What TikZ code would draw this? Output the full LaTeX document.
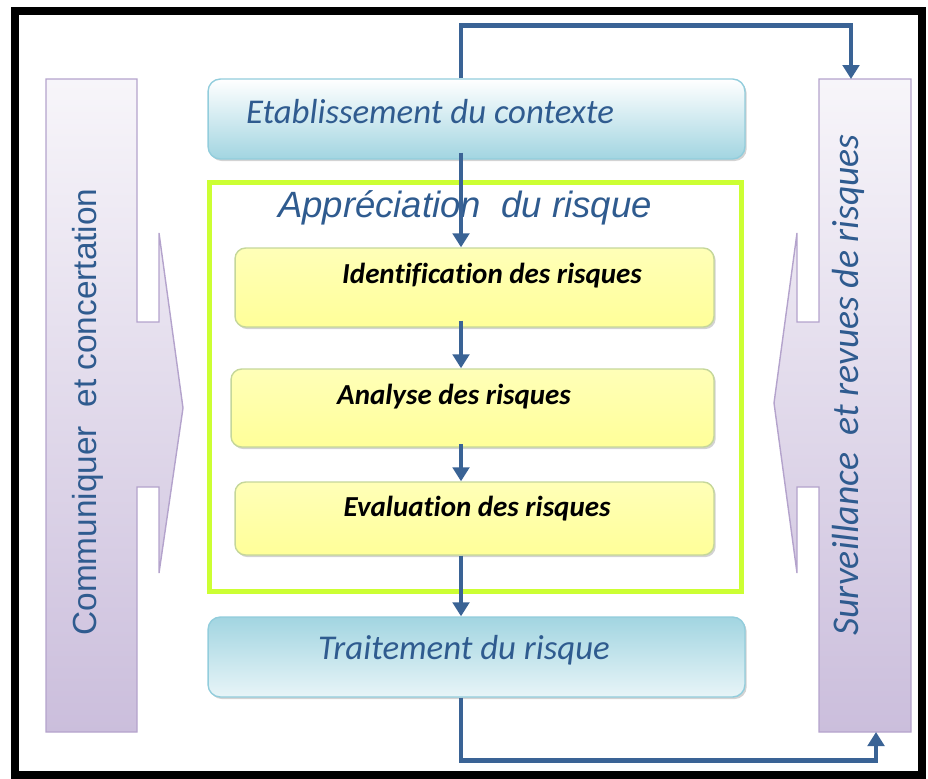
\documentclass[tikz,border=0pt]{standalone}
\usepackage{fontspec}
\newfontfamily\carl[Ligatures=CommonOff]{Carlito}
\newfontfamily\lsans{Liberation Sans}
\usetikzlibrary{positioning,arrows.meta,shadows}

\definecolor{arrblue}{HTML}{3A6395}
\definecolor{txtblue}{HTML}{2F5B8F}
\definecolor{ctxedge}{HTML}{92CDDC}
\definecolor{ctxdark}{HTML}{A2D5E1}
\definecolor{ylw}{HTML}{FFFF99}
\definecolor{ylwedge}{HTML}{C5D79A}
\definecolor{lime}{HTML}{CCFF33}
\definecolor{lavedge}{HTML}{B4A3CC}
\definecolor{lavdark}{HTML}{CBBEDC}

\begin{document}
\begin{tikzpicture}[x=0.02cm, y=-0.02cm,
  ctxbox/.style={draw=ctxedge, rounded corners=7pt, minimum width=10.74cm, minimum height=1.6cm, line width=0.8pt,
    drop shadow={opacity=0.35, shadow xshift=1pt, shadow yshift=-1.2pt}},
  stepbox/.style={draw=ylwedge, rounded corners=6pt, minimum height=1.58cm, line width=0.8pt,
    top color=ylw!70!white, bottom color=ylw, drop shadow={opacity=0.35, shadow xshift=1pt, shadow yshift=-1.2pt}},
  ctxtxt/.style={font=\carl\itshape\fontsize{19.8}{22}\selectfont, text=txtblue},
  steptxt/.style={font=\carl\bfseries\itshape\fontsize{16.5}{18}\selectfont},
  sidetxt/.style={text=txtblue, rotate=90},
  sidebar/.style={draw=lavedge, line width=0.8pt, top color=lavdark!15!white, bottom color=lavdark},
  arr/.style={-{Triangle[length=2.8mm, width=3.3mm]}, line width=2.6pt, draw=arrblue}]
  \useasboundingbox (0,0) rectangle (928,778);
  \draw[line width=0.16cm] (15,11) rectangle (922,775);

  % side bars with their arrows
  \path[sidebar] (46,79) -- (137,79) -- (137,322) -- (159,322) -- (159,233) -- (183,408)
    -- (159,573) -- (159,487) -- (137,487) -- (137,732) -- (46,732) -- cycle;
  \path[sidebar] (819,79) -- (911,79) -- (911,732) -- (819,732) -- (819,487) -- (797,487)
    -- (797,573) -- (774,403) -- (797,233) -- (797,322) -- (819,322) -- cycle;
  \node[sidetxt, font=\lsans\fontsize{19}{21}\selectfont] (comm) at (88,412) {Communiquer\ \ et concertation};
  \node[sidetxt, font=\carl\itshape\fontsize{21.5}{23}\selectfont] (surv) at (848,385) {Surveillance\ \ et revues\ de\ risques};

  % main column
  \node[ctxbox, top color=white, bottom color=ctxdark] (ctx) at (476.5,119) {};
  \node[ctxtxt] (ctxt) at (430,112) {Etablissement du contexte};
  \node[draw=lime, line width=0.1cm, minimum width=10.66cm, minimum height=8.2cm] (appr) at (475.5,387) {};
  \node[font=\lsans\itshape\fontsize{20.8}{23}\selectfont, text=txtblue] (apprt) at (465,208) {Appréciation\ \ du risque};
  \node[stepbox, minimum width=9.58cm] (ident) at (474.5,287.5) {};
  \node[steptxt] (identt) at (492,276) {Identification des risques};
  \node[stepbox, minimum width=9.66cm, minimum height=1.56cm] (anal) at (472.5,408) {};
  \node[steptxt] (analt) at (454,397) {Analyse des risques};
  \node[stepbox, minimum width=9.58cm, minimum height=1.46cm] (eval) at (474.5,518.5) {};
  \node[steptxt] (evalt) at (477,509) {Evaluation des risques};
  \node[ctxbox, top color=ctxdark, bottom color=ctxdark!25!white] (trt) at (476.5,657) {};
  \node[ctxtxt] (trtt) at (464,650) {Traitement du risque};

  % connectors
  \coordinate (spine) at (461,0);
  \coordinate (survtop) at (851,79);
  \coordinate (survbot) at (876,732);
  \draw[arr] (spine |- ctx.north) -- ++(0,-53) -| (survtop);
  \draw[arr] ([yshift=4pt]spine |- ctx.south) -- (spine |- ident.north);
  \draw[arr] ([yshift=4pt]spine |- ident.south) -- (spine |- anal.north);
  \draw[arr] ([yshift=2pt]spine |- anal.south) -- (spine |- eval.north);
  \draw[arr] (spine |- eval.south) -- (spine |- trt.north);
  \draw[arr] (spine |- trt.south) -- ++(0,63) -| (survbot);
\end{tikzpicture}
\end{document}
